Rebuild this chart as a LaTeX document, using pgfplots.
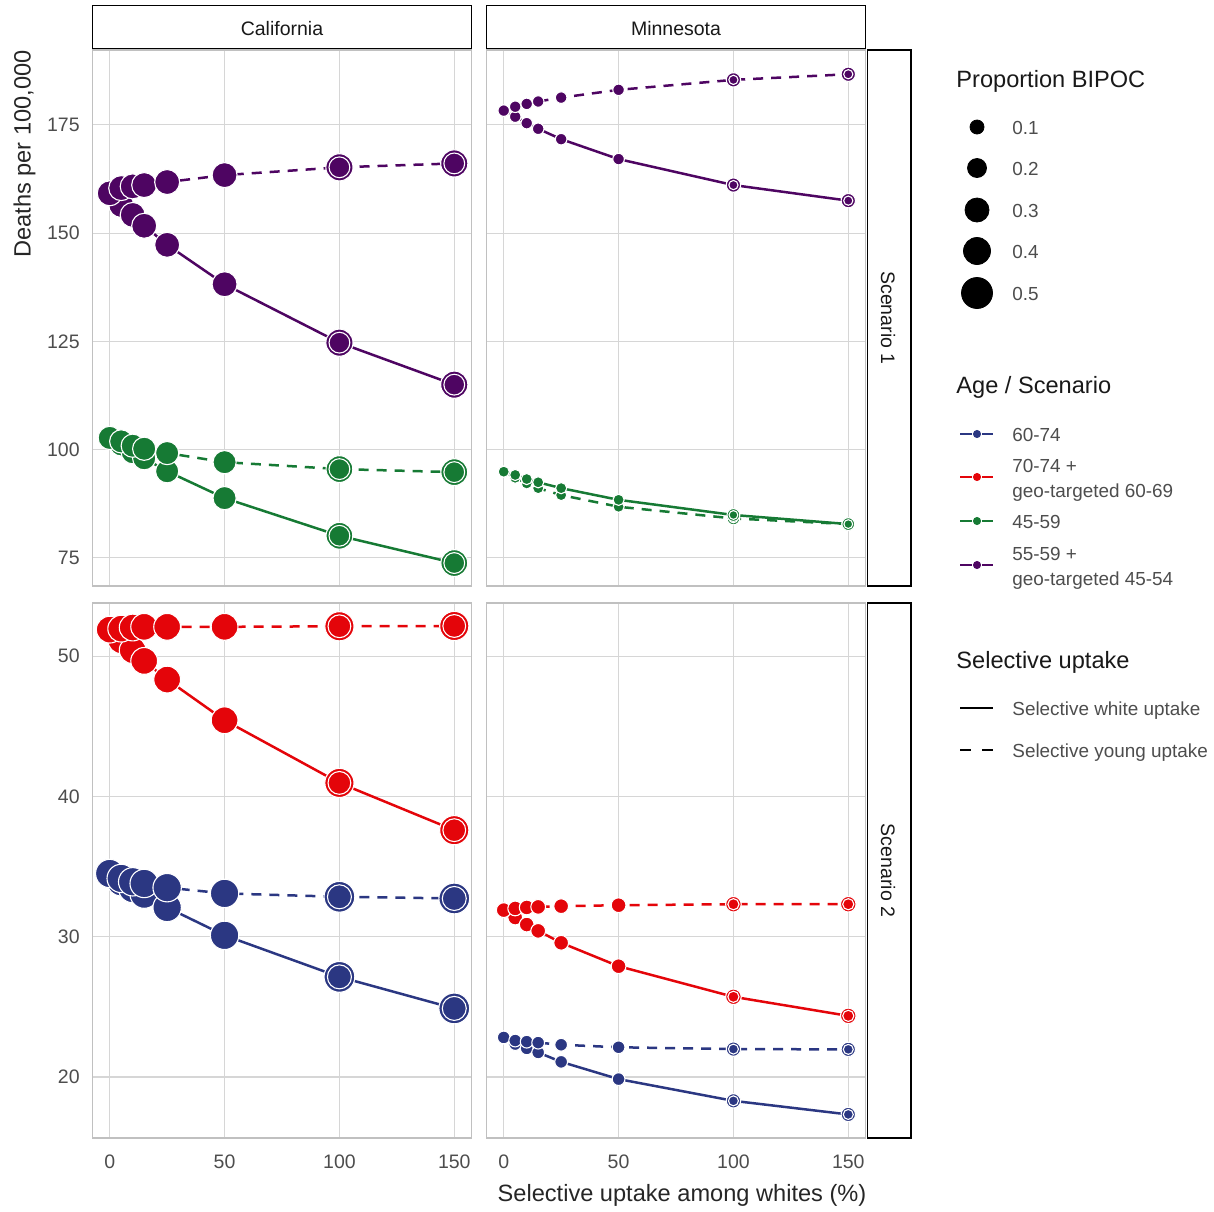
\documentclass[border=0pt]{standalone}
\usepackage{pgfplots}
\pgfplotsset{compat=1.18}
\usepackage{pgfplotstable}
\usepackage{fontspec}
\setmainfont{Liberation Sans}
\definecolor{cblue}{RGB}{43,55,130}
\definecolor{cred}{RGB}{228,5,10}
\definecolor{cgreen}{RGB}{22,122,52}
\definecolor{cpurple}{RGB}{78,5,98}
\definecolor{gridc}{RGB}{214,214,214}
\definecolor{borderc}{RGB}{192,192,192}
\definecolor{tickc}{RGB}{77,77,77}
\newcommand\ticksize{\fontsize{9.75pt}{11pt}\selectfont}
\newcommand\labsize{\fontsize{9.45pt}{11pt}\selectfont}
\newcommand\titlesize{\fontsize{11.8pt}{14pt}\selectfont}

\pgfplotstableread{
x pd ps gd gs
0 159.2 159.2 102.7 102.7
5 160.4 156.5 101.9 101.2
10 160.8 154.2 100.9 99.4
15 161.1 151.7 100.2 98.0
25 161.8 147.3 99.2 95.0
50 163.4 138.2 97.1 88.8
100 165.2 124.7 95.5 80.1
150 166.1 115.0 94.8 73.8
}\caTop
\pgfplotstableread{
x pd ps gd gs
0 178.3 178.3 94.9 94.9
5 179.2 176.9 93.5 94.15
10 179.85 175.4 92.2 93.2
15 180.4 174.1 91.1 92.45
25 181.3 171.7 89.5 91.1
50 183.1 167.1 86.8 88.4
100 185.4 161.1 84.1 84.9
150 186.7 157.5 82.8 82.8
}\mnTop
\pgfplotstableread{
x rd rs bd bs
0 51.9 51.9 34.51 34.51
5 51.97 51.14 34.16 33.92
10 52.05 50.43 33.92 33.44
15 52.1 49.67 33.8 33.04
25 52.1 48.34 33.5 32.09
50 52.1 45.44 33.09 30.1
100 52.14 40.97 32.85 27.14
150 52.16 37.6 32.73 24.89
}\caBot
\pgfplotstableread{
x rd rs bd bs
0 31.9 31.9 22.82 22.82
5 32.02 31.37 22.6 22.35
10 32.09 30.87 22.52 22.04
15 32.13 30.42 22.45 21.75
25 32.18 29.57 22.3 21.08
50 32.25 27.9 22.12 19.85
100 32.32 25.72 21.99 18.3
150 32.32 24.36 21.97 17.33
}\mnBot

\newcommand\serline[4]{\addplot[#3, line width=1.25pt, no markers, #4] table[x=x,y=#2]{#1};}
\newcommand\sermarks[6]{%
 \addplot[#3, only marks, mark=*, mark size=#4, mark options={fill=#3, draw=white, line width=0.55pt}, restrict x to domain=-1:60] table[x=x,y=#2]{#1};
 \addplot[#3, only marks, mark=*, mark size=#5, mark options={fill=#3, draw=white, line width=0.55pt}, restrict x to domain=90:160] table[x=x,y=#2]{#1};
 \addplot[#3, only marks, mark=*, mark size=#6, mark options={fill=#3, draw=white, line width=0.55pt}, restrict x to domain=90:160] table[x=x,y=#2]{#1};
}

\pgfplotsset{
 panel/.style={scale only axis, width=189.5pt, xmin=-7.5, xmax=157.5, enlargelimits=false,
  xtick={0,50,100,150}, grid=major, major grid style={draw=gridc, line width=0.6pt},
  axis line style={draw=borderc, line width=0.7pt}, major tick length=0pt,
  tick label style={font=\ticksize, text=tickc, inner sep=0pt},
  yticklabel style={anchor=east, xshift=-6.25pt},
  xticklabel style={anchor=north, yshift=-8pt},
  /pgf/number format/assume math mode=true, clip=false},
 toprow/.style={panel, height=268pt, ymin=68.5, ymax=192.3, ytick={75,100,125,150,175}, xticklabels={}},
 botrow/.style={panel, height=267.5pt, ymin=15.65, ymax=53.8, ytick={20,30,40,50}},
 dsh/.style={dash pattern=on 5pt off 4pt}
}
\tikzset{
 lab/.style={anchor=base west, inner sep=0pt, font=\labsize, text=tickc},
 ttl/.style={anchor=base west, inner sep=0pt, font=\titlesize, text=black!90}
}

\begin{document}
\begin{tikzpicture}
\useasboundingbox (0,0) rectangle (607pt,605.5pt);
% California, Scenario 1
\begin{axis}[toprow, at={(46.25pt,312.5pt)}, anchor=south west]
\serline{\caTop}{gd}{cgreen}{dsh}
\serline{\caTop}{gs}{cgreen}{}
\serline{\caTop}{pd}{cpurple}{dsh}
\serline{\caTop}{ps}{cpurple}{}
\sermarks{\caTop}{gs}{cgreen}{5.8pt}{6.7pt}{5.2pt}
\sermarks{\caTop}{gd}{cgreen}{5.8pt}{6.7pt}{5.2pt}
\sermarks{\caTop}{ps}{cpurple}{6.25pt}{6.8pt}{5.2pt}
\sermarks{\caTop}{pd}{cpurple}{6.25pt}{6.8pt}{5.2pt}
\end{axis}
% Minnesota, Scenario 1
\begin{axis}[toprow, at={(243.25pt,312.5pt)}, anchor=south west, yticklabels={}]
\serline{\mnTop}{gd}{cgreen}{dsh}
\serline{\mnTop}{gs}{cgreen}{}
\serline{\mnTop}{pd}{cpurple}{dsh}
\serline{\mnTop}{ps}{cpurple}{}
\sermarks{\mnTop}{gd}{cgreen}{2.8pt}{3.2pt}{2.2pt}
\sermarks{\mnTop}{gs}{cgreen}{2.8pt}{3.2pt}{2.2pt}
\sermarks{\mnTop}{ps}{cpurple}{2.9pt}{3.6pt}{2.3pt}
\sermarks{\mnTop}{pd}{cpurple}{2.9pt}{3.6pt}{2.3pt}
\end{axis}
% California, Scenario 2
\begin{axis}[botrow, at={(46.25pt,36.5pt)}, anchor=south west]
\serline{\caBot}{bd}{cblue}{dsh}
\serline{\caBot}{bs}{cblue}{}
\serline{\caBot}{rd}{cred}{dsh}
\serline{\caBot}{rs}{cred}{}
\sermarks{\caBot}{bs}{cblue}{7.1pt}{7.7pt}{6.0pt}
\sermarks{\caBot}{bd}{cblue}{7.1pt}{7.7pt}{6.0pt}
\sermarks{\caBot}{rs}{cred}{6.7pt}{7.3pt}{5.7pt}
\sermarks{\caBot}{rd}{cred}{6.7pt}{7.3pt}{5.7pt}
\end{axis}
% Minnesota, Scenario 2
\begin{axis}[botrow, at={(243.25pt,36.5pt)}, anchor=south west, yticklabels={}]
\serline{\mnBot}{bd}{cblue}{dsh}
\serline{\mnBot}{bs}{cblue}{}
\serline{\mnBot}{rd}{cred}{dsh}
\serline{\mnBot}{rs}{cred}{}
\sermarks{\mnBot}{bs}{cblue}{3.2pt}{3.6pt}{2.5pt}
\sermarks{\mnBot}{bd}{cblue}{3.2pt}{3.6pt}{2.5pt}
\sermarks{\mnBot}{rs}{cred}{3.7pt}{3.9pt}{2.8pt}
\sermarks{\mnBot}{rd}{cred}{3.7pt}{3.9pt}{2.8pt}
\end{axis}
% overlay in pixel coordinates: strips, titles, legends
\begin{axis}[at={(0pt,0pt)}, anchor=south west, scale only axis, width=607pt, height=605.5pt,
  xmin=0, xmax=1214, ymin=0, ymax=1211, y dir=reverse, enlargelimits=false, hide axis, clip=false]
\draw[black, line width=0.75pt, fill=white] (92.5,5.5) rectangle (471.5,48.5);
\draw[black, line width=0.75pt, fill=white] (486.5,5.5) rectangle (865.5,48.5);
\draw[black, line width=0.75pt, fill=white] (867.5,50) rectangle (911,586);
\draw[black, line width=0.75pt, fill=white] (867.5,603) rectangle (911,1138);
\node[anchor=base, font=\ticksize, text=black!90] at (282,35) {California};
\node[anchor=base, font=\ticksize, text=black!90] at (676,35) {Minnesota};
\node[anchor=base, rotate=-90, font=\ticksize, text=black!90] at (881,318) {Scenario 1};
\node[anchor=base, rotate=-90, font=\ticksize, text=black!90] at (881,870.5) {Scenario 2};
\node[anchor=base, rotate=90, font=\titlesize, text=black!85] at (30.5,154) {Deaths per 100,000};
\node[anchor=base, font=\titlesize, text=black!85] at (682,1201.5) {Selective uptake among whites (\%)};
% legend: proportion BIPOC
\node[ttl] at (956,87.5) {Proportion BIPOC};
\addplot[black, only marks, mark=*, mark size=3.5pt] coordinates {(977,127)};
\addplot[black, only marks, mark=*, mark size=4.75pt] coordinates {(977,168)};
\addplot[black, only marks, mark=*, mark size=6pt] coordinates {(977,210)};
\addplot[black, only marks, mark=*, mark size=6.75pt] coordinates {(977,251)};
\addplot[black, only marks, mark=*, mark size=7.75pt] coordinates {(977,293)};
\node[lab] at (1012,134) {0.1};
\node[lab] at (1012,175) {0.2};
\node[lab] at (1012,217) {0.3};
\node[lab] at (1012,258) {0.4};
\node[lab] at (1012,300) {0.5};
% legend: Age / Scenario
\node[ttl] at (956,393.5) {Age / Scenario};
\addplot[cblue, line width=1pt] coordinates {(960,434)(972,434)};
\addplot[cblue, line width=1pt] coordinates {(982,434)(993,434)};
\addplot[cblue, only marks, mark=*, mark size=1.8pt] coordinates {(977,434)};
\addplot[cred, line width=1pt] coordinates {(960,477)(972,477)};
\addplot[cred, line width=1pt] coordinates {(982,477)(993,477)};
\addplot[cred, only marks, mark=*, mark size=1.8pt] coordinates {(977,477)};
\addplot[cgreen, line width=1pt] coordinates {(960,521)(972,521)};
\addplot[cgreen, line width=1pt] coordinates {(982,521)(993,521)};
\addplot[cgreen, only marks, mark=*, mark size=1.8pt] coordinates {(977,521)};
\addplot[cpurple, line width=1pt] coordinates {(960,565)(972,565)};
\addplot[cpurple, line width=1pt] coordinates {(982,565)(993,565)};
\addplot[cpurple, only marks, mark=*, mark size=1.8pt] coordinates {(977,565)};
\node[lab] at (1012,441) {60-74};
\node[lab] at (1012,472) {70-74 +};
\node[lab] at (1012,497) {geo-targeted 60-69};
\node[lab] at (1012,528) {45-59};
\node[lab] at (1012,560) {55-59 +};
\node[lab] at (1012,585) {geo-targeted 45-54};
% legend: selective uptake
\node[ttl] at (956,668.5) {Selective uptake};
\addplot[black, line width=1pt] coordinates {(960,708)(993,708)};
\addplot[black, line width=1pt] coordinates {(960,750)(971,750)};
\addplot[black, line width=1pt] coordinates {(982,750)(993,750)};
\node[lab] at (1012,715) {Selective white uptake};
\node[lab] at (1012,757) {Selective young uptake};
\end{axis}
\end{tikzpicture}
\end{document}
